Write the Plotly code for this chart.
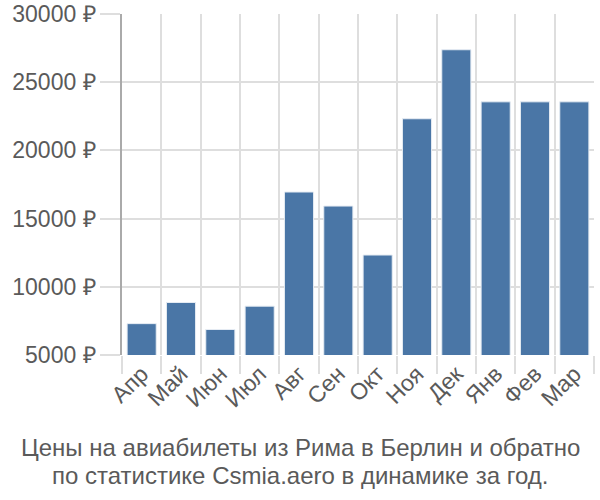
import plotly.graph_objects as go

months = ["Апр", "Май", "Июн", "Июл", "Авг", "Сен", "Окт", "Ноя", "Дек", "Янв", "Фев", "Мар"]
prices = [7300, 8850, 6870, 8580, 16950, 15920, 12330, 22320, 27380, 23560, 23560, 23560]
y_ticks = [5000, 10000, 15000, 20000, 25000, 30000]
y_tick_labels = [f"{v} ₽" for v in y_ticks]
title_lines = ["Цены на авиабилеты из Рима в Берлин и обратно",
               "по статистике Csmia.aero в динамике за год."]

font_family = "Liberation Sans, Arial, sans-serif"
text_color = "#5a5a5a"
grid_color = "#dedede"

W, H = 600, 500
PL, PR, PT, PB = 122, 594, 14, 355  # plot area in page pixels

def paper_y(py):
    return (PB - py) / (PB - PT)

def paper_x(px):
    return (px - PL) / (PR - PL)

fig = go.Figure(go.Bar(
    x=months, y=prices,
    marker=dict(color="#4a76a6", line=dict(color="#e6ecf3", width=1)),
))

annotations = []
for line, py in zip(title_lines, [447.5, 475.0]):
    annotations.append(dict(
        text=line, xref="paper", yref="paper",
        x=paper_x(300), xanchor="center",
        y=paper_y(py), yanchor="middle",
        showarrow=False, font=dict(size=24, color=text_color),
    ))

fig.update_layout(
    width=W, height=H,
    margin=dict(l=PL, r=W - PR, t=PT, b=H - PB, autoexpand=False),
    paper_bgcolor="white", plot_bgcolor="white",
    bargap=0.26,
    showlegend=False,
    font=dict(family=font_family, size=23, color=text_color),
    annotations=annotations,
)

fig.update_xaxes(
    type="category", tickson="boundaries", showgrid=True, gridcolor=grid_color, gridwidth=1.5,
    ticks="outside", ticklen=18, tickcolor=grid_color, tickwidth=1.5,
    tickangle=-45, tickfont=dict(size=23, color=text_color),
    showline=False, zeroline=False, automargin=False,
)
fig.update_yaxes(
    range=[5000, 30000], tickvals=y_ticks, ticktext=y_tick_labels,
    showgrid=True, gridcolor=grid_color, gridwidth=1.5,
    ticks="outside", ticklen=20, tickcolor=grid_color, tickwidth=1.5,
    tickfont=dict(size=23, color=text_color), ticklabelstandoff=0,
    ticklabeloverflow="allow",
    showline=True, linecolor="#aaaaaa", linewidth=1.5, zeroline=False, automargin=False,
)

fig.write_html("out.html",
               config={"displayModeBar": False},
               post_script="document.body.style.margin='0';document.body.style.overflow='hidden';")
